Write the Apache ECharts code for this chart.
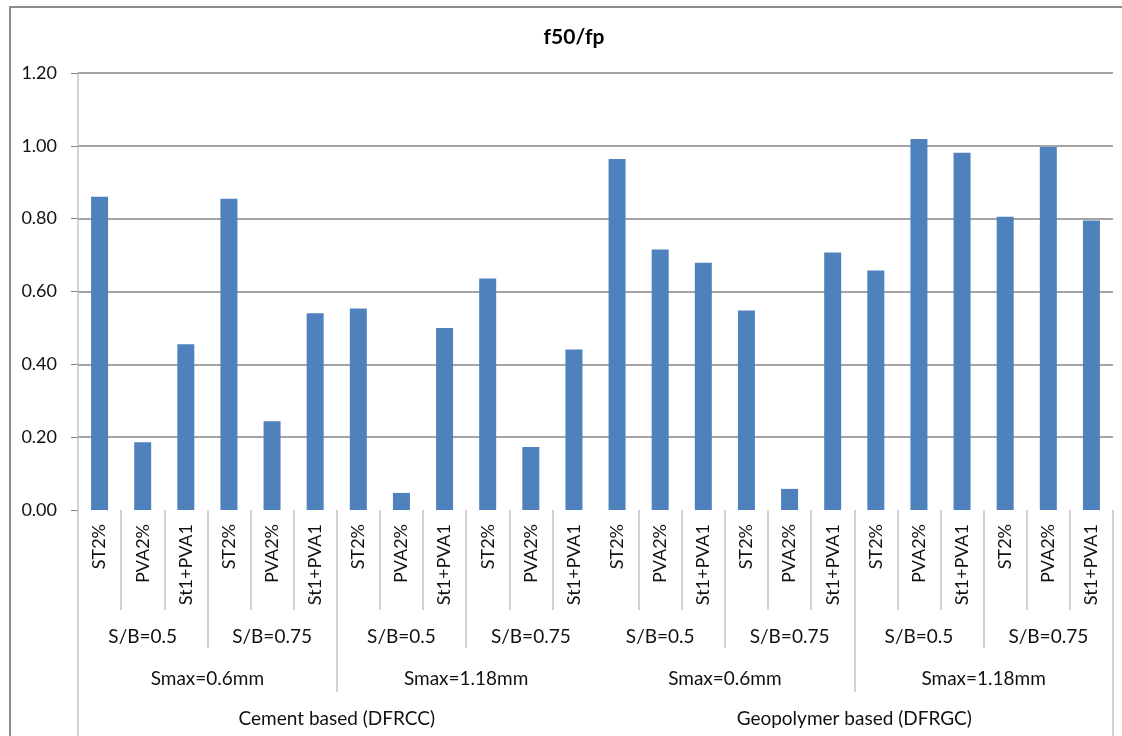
<!DOCTYPE html>
<html>
<head>
<meta charset="utf-8">
<title>f50/fp</title>
<script src="https://cdn.jsdelivr.net/npm/echarts@6/dist/echarts.min.js"></script>
<style>
  html, body { margin: 0; padding: 0; background: #fff; }
  #wrap { position: relative; width: 1122px; height: 736px; overflow: hidden; }
  #chart { position: absolute; left: 0; top: 0; width: 1122px; height: 736px; }
  #frame { position: absolute; left: 9px; top: 6px; width: 1200px; height: 800px;
           border-top: 2px solid #8c8c8c; border-left: 2px solid #8c8c8c; pointer-events: none; }
</style>
</head>
<body>
<div id="wrap">
  <div id="chart"></div>
  <div id="frame"></div>
</div>
<script>
// Fibre type for each bar (innermost category level)
const fibreLabels = [
  'ST2%', 'PVA2%', 'St1+PVA1', 'ST2%', 'PVA2%', 'St1+PVA1',
  'ST2%', 'PVA2%', 'St1+PVA1', 'ST2%', 'PVA2%', 'St1+PVA1',
  'ST2%', 'PVA2%', 'St1+PVA1', 'ST2%', 'PVA2%', 'St1+PVA1',
  'ST2%', 'PVA2%', 'St1+PVA1', 'ST2%', 'PVA2%', 'St1+PVA1'
];
// Sand/binder ratio groups (3 bars each)
const sbLabels = ['S/B=0.5', 'S/B=0.75', 'S/B=0.5', 'S/B=0.75',
                  'S/B=0.5', 'S/B=0.75', 'S/B=0.5', 'S/B=0.75'];
// Maximum sand size groups (6 bars each)
const smaxLabels = ['Smax=0.6mm', 'Smax=1.18mm', 'Smax=0.6mm', 'Smax=1.18mm'];
// Binder groups (12 bars each)
const binderLabels = ['Cement based (DFRCC)', 'Geopolymer based (DFRGC)'];
// f50/fp ratio per mix
const ratioValues = [
  0.860, 0.186, 0.455, 0.855, 0.244, 0.540,
  0.553, 0.047, 0.500, 0.636, 0.173, 0.441,
  0.964, 0.715, 0.679, 0.548, 0.058, 0.707,
  0.658, 1.019, 0.981, 0.805, 0.997, 0.795
];
const yTicks = [0, 0.2, 0.4, 0.6, 0.8, 1.0, 1.2];

const FONT = 'Lato';
const SEP = '#c4c4c4';
const TXT = '#111';

// Separator between the two binder halves is not drawn on any level
const skipMiddle = (groupSize) => (idx) => idx * groupSize !== 12;

const chart = echarts.init(document.getElementById('chart'), null, { renderer: 'canvas' });

chart.setOption({
  animation: false,
  title: {
    text: 'f50/fp',
    left: 569, top: 22, textAlign: 'center',
    textStyle: { fontFamily: FONT, fontSize: 21, fontWeight: 'bold', color: '#000' }
  },
  grid: { left: 78, right: 9, top: 73, bottom: 226 },
  xAxis: [
    {
      type: 'category', position: 'bottom', data: fibreLabels,
      axisLine: { show: false },
      axisTick: { show: true, length: 100, interval: skipMiddle(1),
                  lineStyle: { color: SEP, width: 1.5 } },
      axisLabel: { interval: 0, rotate: 90, margin: 14,
                   fontFamily: FONT, fontSize: 18, color: TXT }
    },
    {
      type: 'category', position: 'bottom', data: sbLabels,
      axisLine: { show: false },
      axisTick: { show: true, length: 138, interval: skipMiddle(3),
                  lineStyle: { color: SEP, width: 1.5 } },
      axisLabel: { interval: 0, margin: 117,
                   fontFamily: FONT, fontSize: 19, color: TXT }
    },
    {
      type: 'category', position: 'bottom', data: smaxLabels,
      axisLine: { show: false },
      axisTick: { show: true, length: 182, interval: skipMiddle(6),
                  lineStyle: { color: SEP, width: 1.5 } },
      axisLabel: { interval: 0, margin: 159,
                   fontFamily: FONT, fontSize: 19, color: TXT }
    },
    {
      type: 'category', position: 'bottom', data: binderLabels,
      axisLine: { show: false },
      axisTick: { show: true, length: 226, interval: (idx) => idx === 0,
                  lineStyle: { color: SEP, width: 1.5 } },
      axisLabel: { interval: 0, margin: 199,
                   fontFamily: FONT, fontSize: 19, color: TXT }
    }
  ],
  yAxis: {
    type: 'value',
    min: yTicks[0], max: yTicks[yTicks.length - 1], interval: yTicks[1] - yTicks[0],
    axisLine: { show: true, lineStyle: { color: SEP, width: 1.5 } },
    axisTick: { show: true, length: 7, lineStyle: { color: '#868686' } },
    axisLabel: { margin: 21, fontFamily: FONT, fontSize: 18, color: TXT,
                 formatter: (v) => v.toFixed(2) },
    splitLine: { show: true, showMinLine: false, lineStyle: { color: '#868686', width: 1.5 } }
  },
  series: [{
    type: 'bar',
    xAxisIndex: 0,
    data: ratioValues,
    barWidth: 17,
    itemStyle: { color: '#4f81bd' }
  }]
});
</script>
</body>
</html>
